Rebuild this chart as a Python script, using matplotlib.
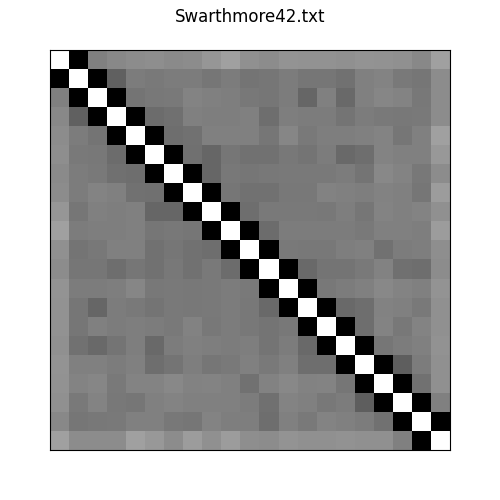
import numpy as np
import matplotlib
matplotlib.use("Agg")
import matplotlib.pyplot as plt

# grey level (0-255) of each cell to the right of the black band, row by row
upper = [
    [0x80, 0x88, 0x8C, 0x8E, 0x8A, 0x8C, 0x96, 0xA0, 0x90, 0x8C, 0x94, 0x92, 0x92, 0x90, 0x94, 0x92, 0x90, 0x88, 0xA0],
    [0x60, 0x7C, 0x7A, 0x7C, 0x7C, 0x76, 0x7C, 0x74, 0x76, 0x7C, 0x76, 0x76, 0x72, 0x80, 0x84, 0x7A, 0x76, 0x8C],
    [0x74, 0x78, 0x7A, 0x84, 0x80, 0x7E, 0x78, 0x76, 0x7C, 0x66, 0x80, 0x6A, 0x80, 0x86, 0x84, 0x78, 0x8C],
    [0x6C, 0x70, 0x80, 0x7E, 0x7E, 0x80, 0x6E, 0x7E, 0x7C, 0x7C, 0x74, 0x7C, 0x7A, 0x78, 0x7A, 0x8C],
    [0x6E, 0x72, 0x80, 0x80, 0x80, 0x76, 0x86, 0x7A, 0x7E, 0x7E, 0x80, 0x84, 0x76, 0x80, 0xA0],
    [0x70, 0x66, 0x76, 0x72, 0x72, 0x78, 0x74, 0x7C, 0x6A, 0x6E, 0x84, 0x80, 0x80, 0x98],
    [0x66, 0x78, 0x76, 0x78, 0x7A, 0x7A, 0x7A, 0x7C, 0x74, 0x88, 0x84, 0x78, 0x8C],
    [0x76, 0x72, 0x72, 0x78, 0x78, 0x82, 0x80, 0x7E, 0x82, 0x80, 0x76, 0x9C],
    [0x6E, 0x7A, 0x7A, 0x7A, 0x78, 0x7E, 0x76, 0x84, 0x80, 0x84, 0x90],
    [0x6C, 0x7C, 0x7C, 0x7C, 0x7C, 0x7A, 0x80, 0x80, 0x7E, 0x9C],
    [0x7A, 0x78, 0x78, 0x7E, 0x80, 0x72, 0x7C, 0x7E, 0x8E],
    [0x6A, 0x74, 0x74, 0x7A, 0x82, 0x70, 0x6E, 0x8C],
    [0x78, 0x7C, 0x80, 0x88, 0x84, 0x80, 0x94],
    [0x6A, 0x6E, 0x82, 0x80, 0x7A, 0x90],
    [0x6E, 0x84, 0x78, 0x84, 0x90],
    [0x76, 0x7C, 0x80, 0x92],
    [0x5E, 0x7C, 0x90],
    [0x72, 0x90],
    [0x80],
]

n = 21
mat = np.eye(n)
for i, row in enumerate(upper):
    for k, v in enumerate(row):
        j = i + 2 + k
        mat[i, j] = v / 255.0
        mat[j, i] = v / 255.0

fig = plt.figure(figsize=(5, 5), dpi=100)
ax = fig.add_axes([0.1, 0.1, 0.8, 0.8])
ax.imshow(mat, cmap="gray", vmin=0, vmax=1, interpolation="nearest", aspect="auto")
ax.set_xticks([])
ax.set_yticks([])
ax.set_title("Swarthmore42.txt", pad=20)
fig.savefig("out.png")
